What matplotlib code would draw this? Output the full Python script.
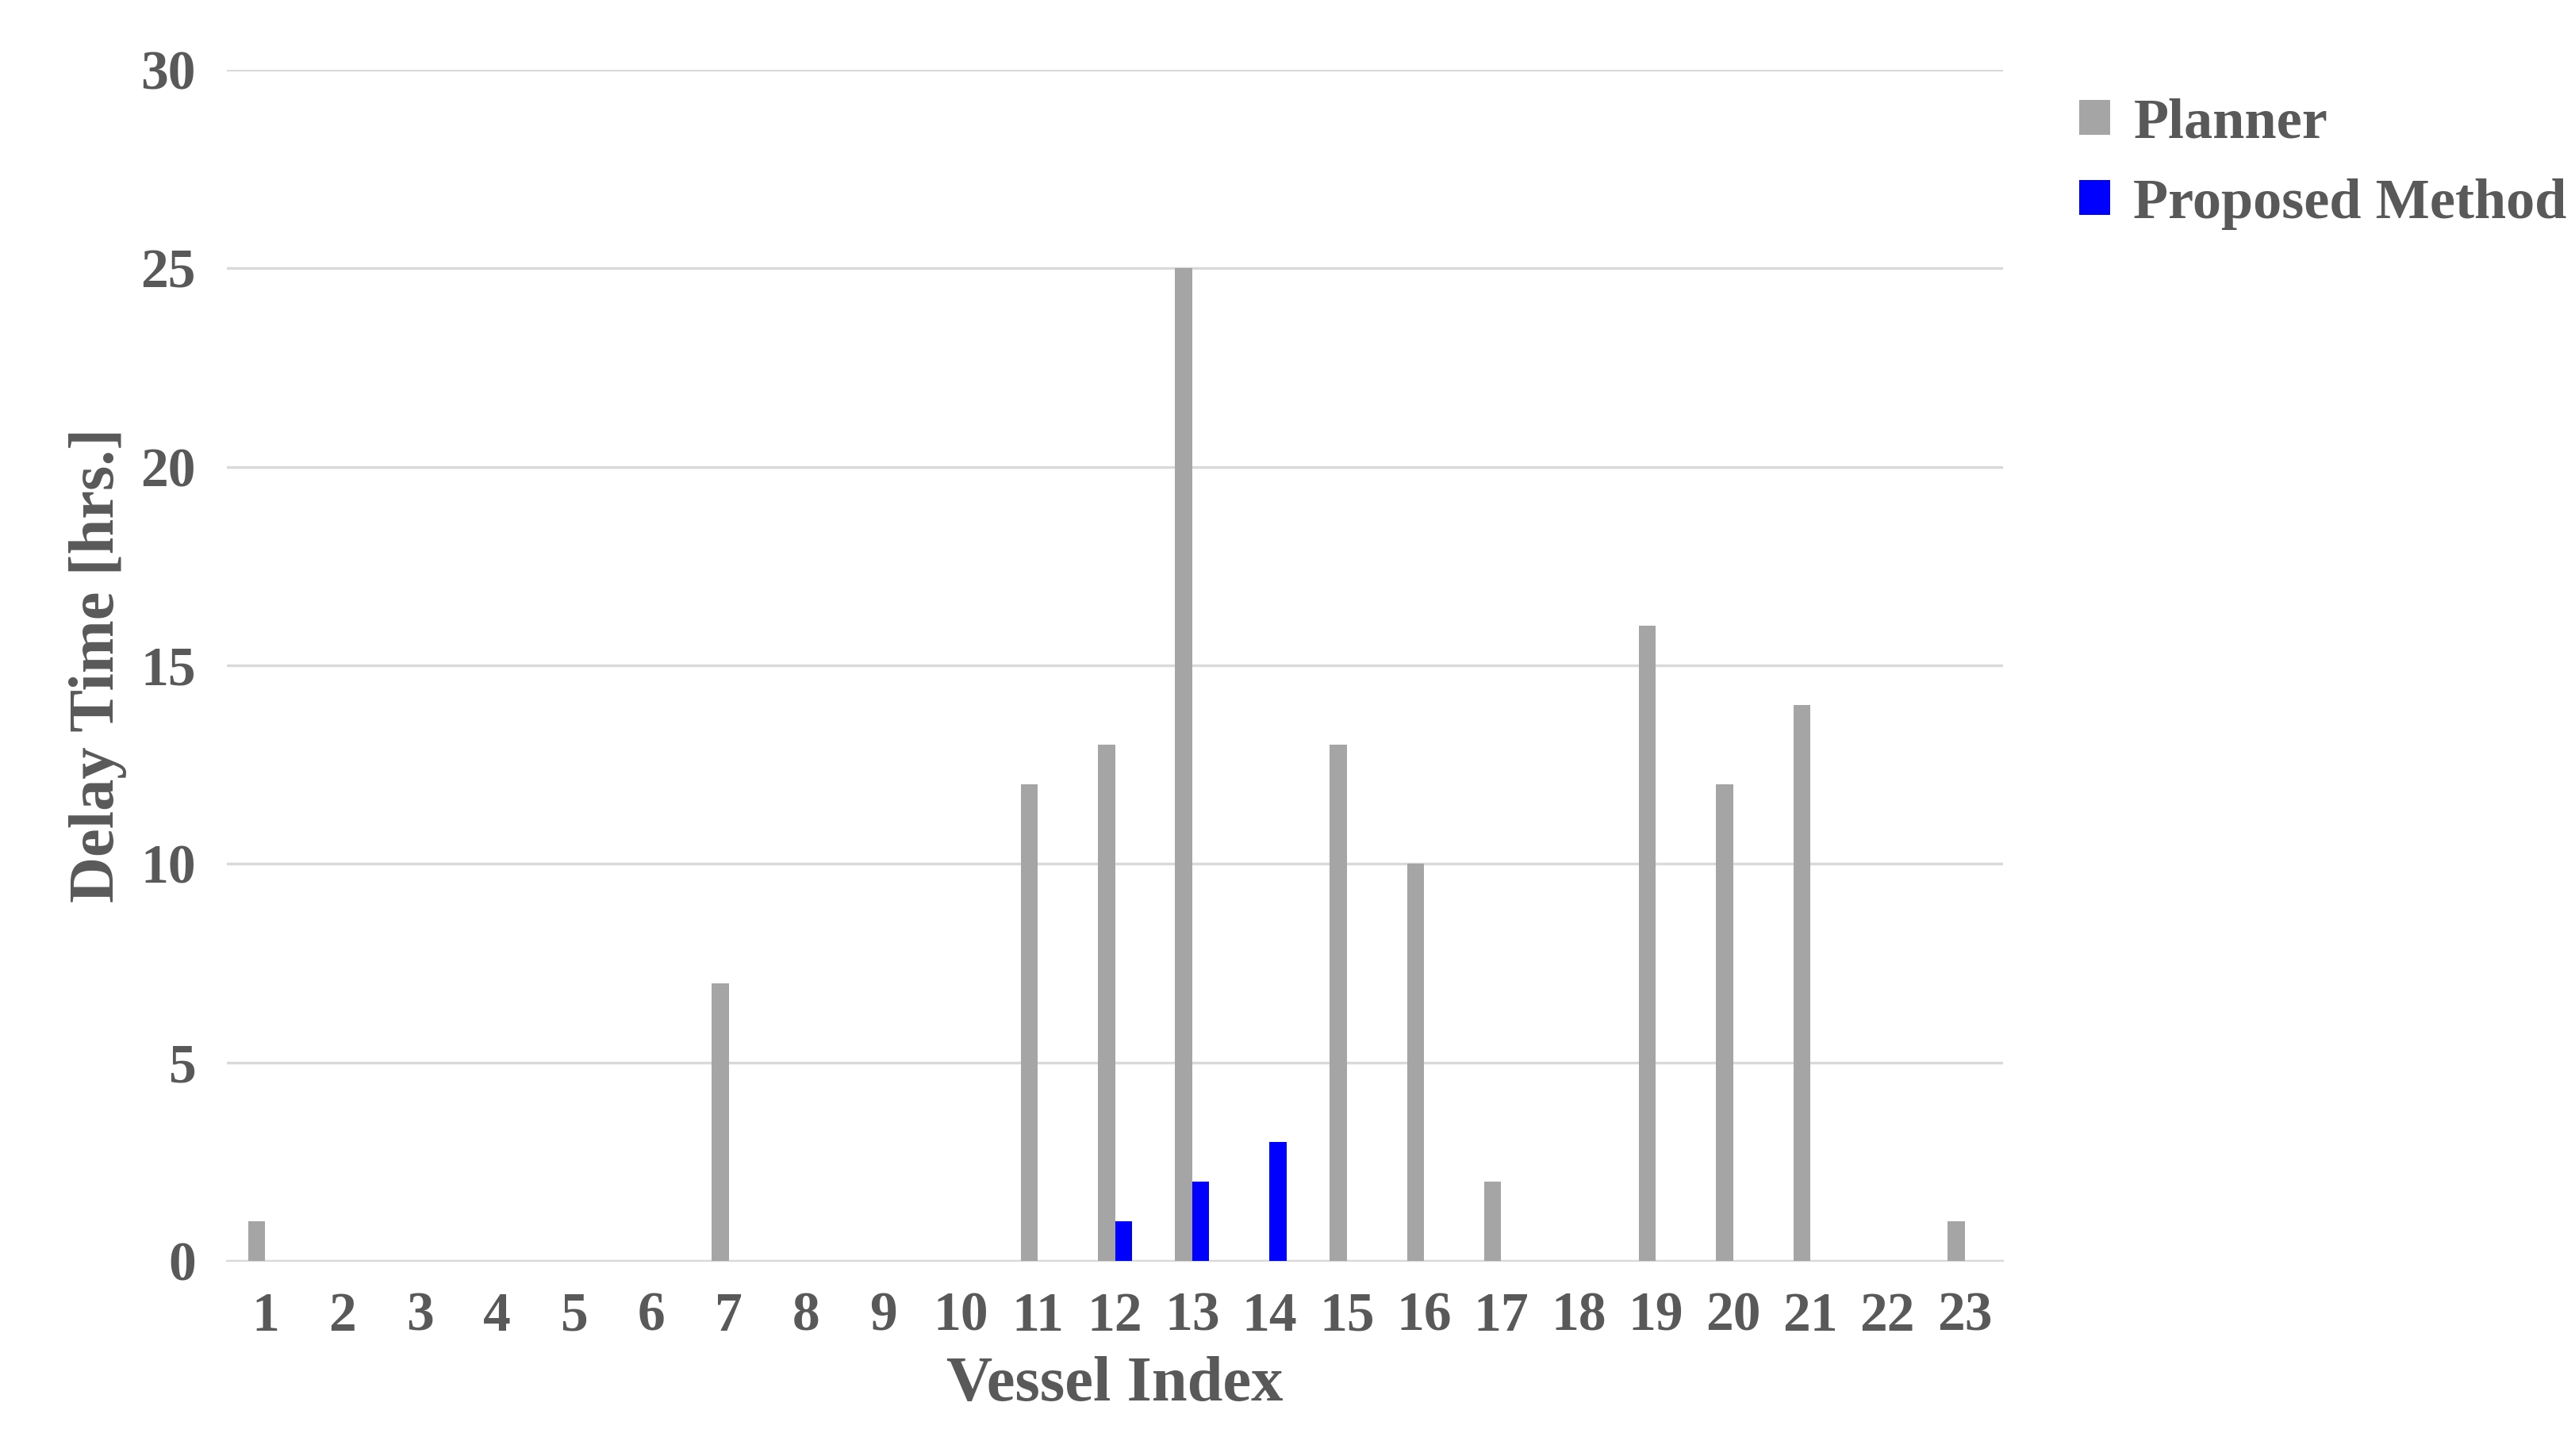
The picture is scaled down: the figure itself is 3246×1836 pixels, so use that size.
import matplotlib.pyplot as plt
import numpy as np

vessels = list(range(1, 24))
planner = [1, 0, 0, 0, 0, 0, 7, 0, 0, 0, 12, 13, 25, 0, 13, 10, 2, 0, 16, 12, 14, 0, 1]
proposed = [0, 0, 0, 0, 0, 0, 0, 0, 0, 0, 0, 1, 2, 3, 0, 0, 0, 0, 0, 0, 0, 0, 0]

plt.rcParams['font.family'] = ['Liberation Serif', 'DejaVu Serif']
plt.rcParams['font.weight'] = 'bold'
txt = '#595959'

fig = plt.figure(figsize=(16.23, 9.18), dpi=200)
ax = fig.add_axes([0.088, 0.134, 0.69, 0.818])

x = np.arange(len(vessels))
w = 0.22
ax.bar(x - 0.11, planner, w, color='#A5A5A5', label='Planner', zorder=3)
ax.bar(x + 0.11, proposed, w, color='#0000FF', label='Proposed Method', zorder=3)

ax.set_xlim(-0.5, len(vessels) - 0.5)
ax.set_ylim(0, 30)
ax.set_yticks(range(0, 31, 5))
ax.set_xticks(x)
ax.set_xticklabels([str(v) for v in vessels])
ax.grid(axis='y', color='#D9D9D9', linewidth=1.2, zorder=0)
for s in ['top', 'right', 'left']:
    ax.spines[s].set_visible(False)
ax.spines['bottom'].set_color('#D9D9D9')
ax.tick_params(length=0, labelsize=25, colors=txt, pad=14)
for lab in ax.get_xticklabels() + ax.get_yticklabels():
    lab.set_fontweight('bold')

ax.set_xlabel('Vessel Index', fontsize=29, color=txt, fontweight='bold', labelpad=6)
ax.set_ylabel('Delay Time [hrs.]', fontsize=29, color=txt, fontweight='bold', labelpad=6)

leg = ax.legend(loc='upper left', bbox_to_anchor=(1.02, 1.01), frameon=False,
                fontsize=26, handlelength=0.55, handleheight=0.55, handletextpad=0.4,
                labelspacing=0.5, borderpad=0.2)
for t in leg.get_texts():
    t.set_color(txt)
    t.set_fontweight('bold')

fig.savefig('out.png', dpi=200)
